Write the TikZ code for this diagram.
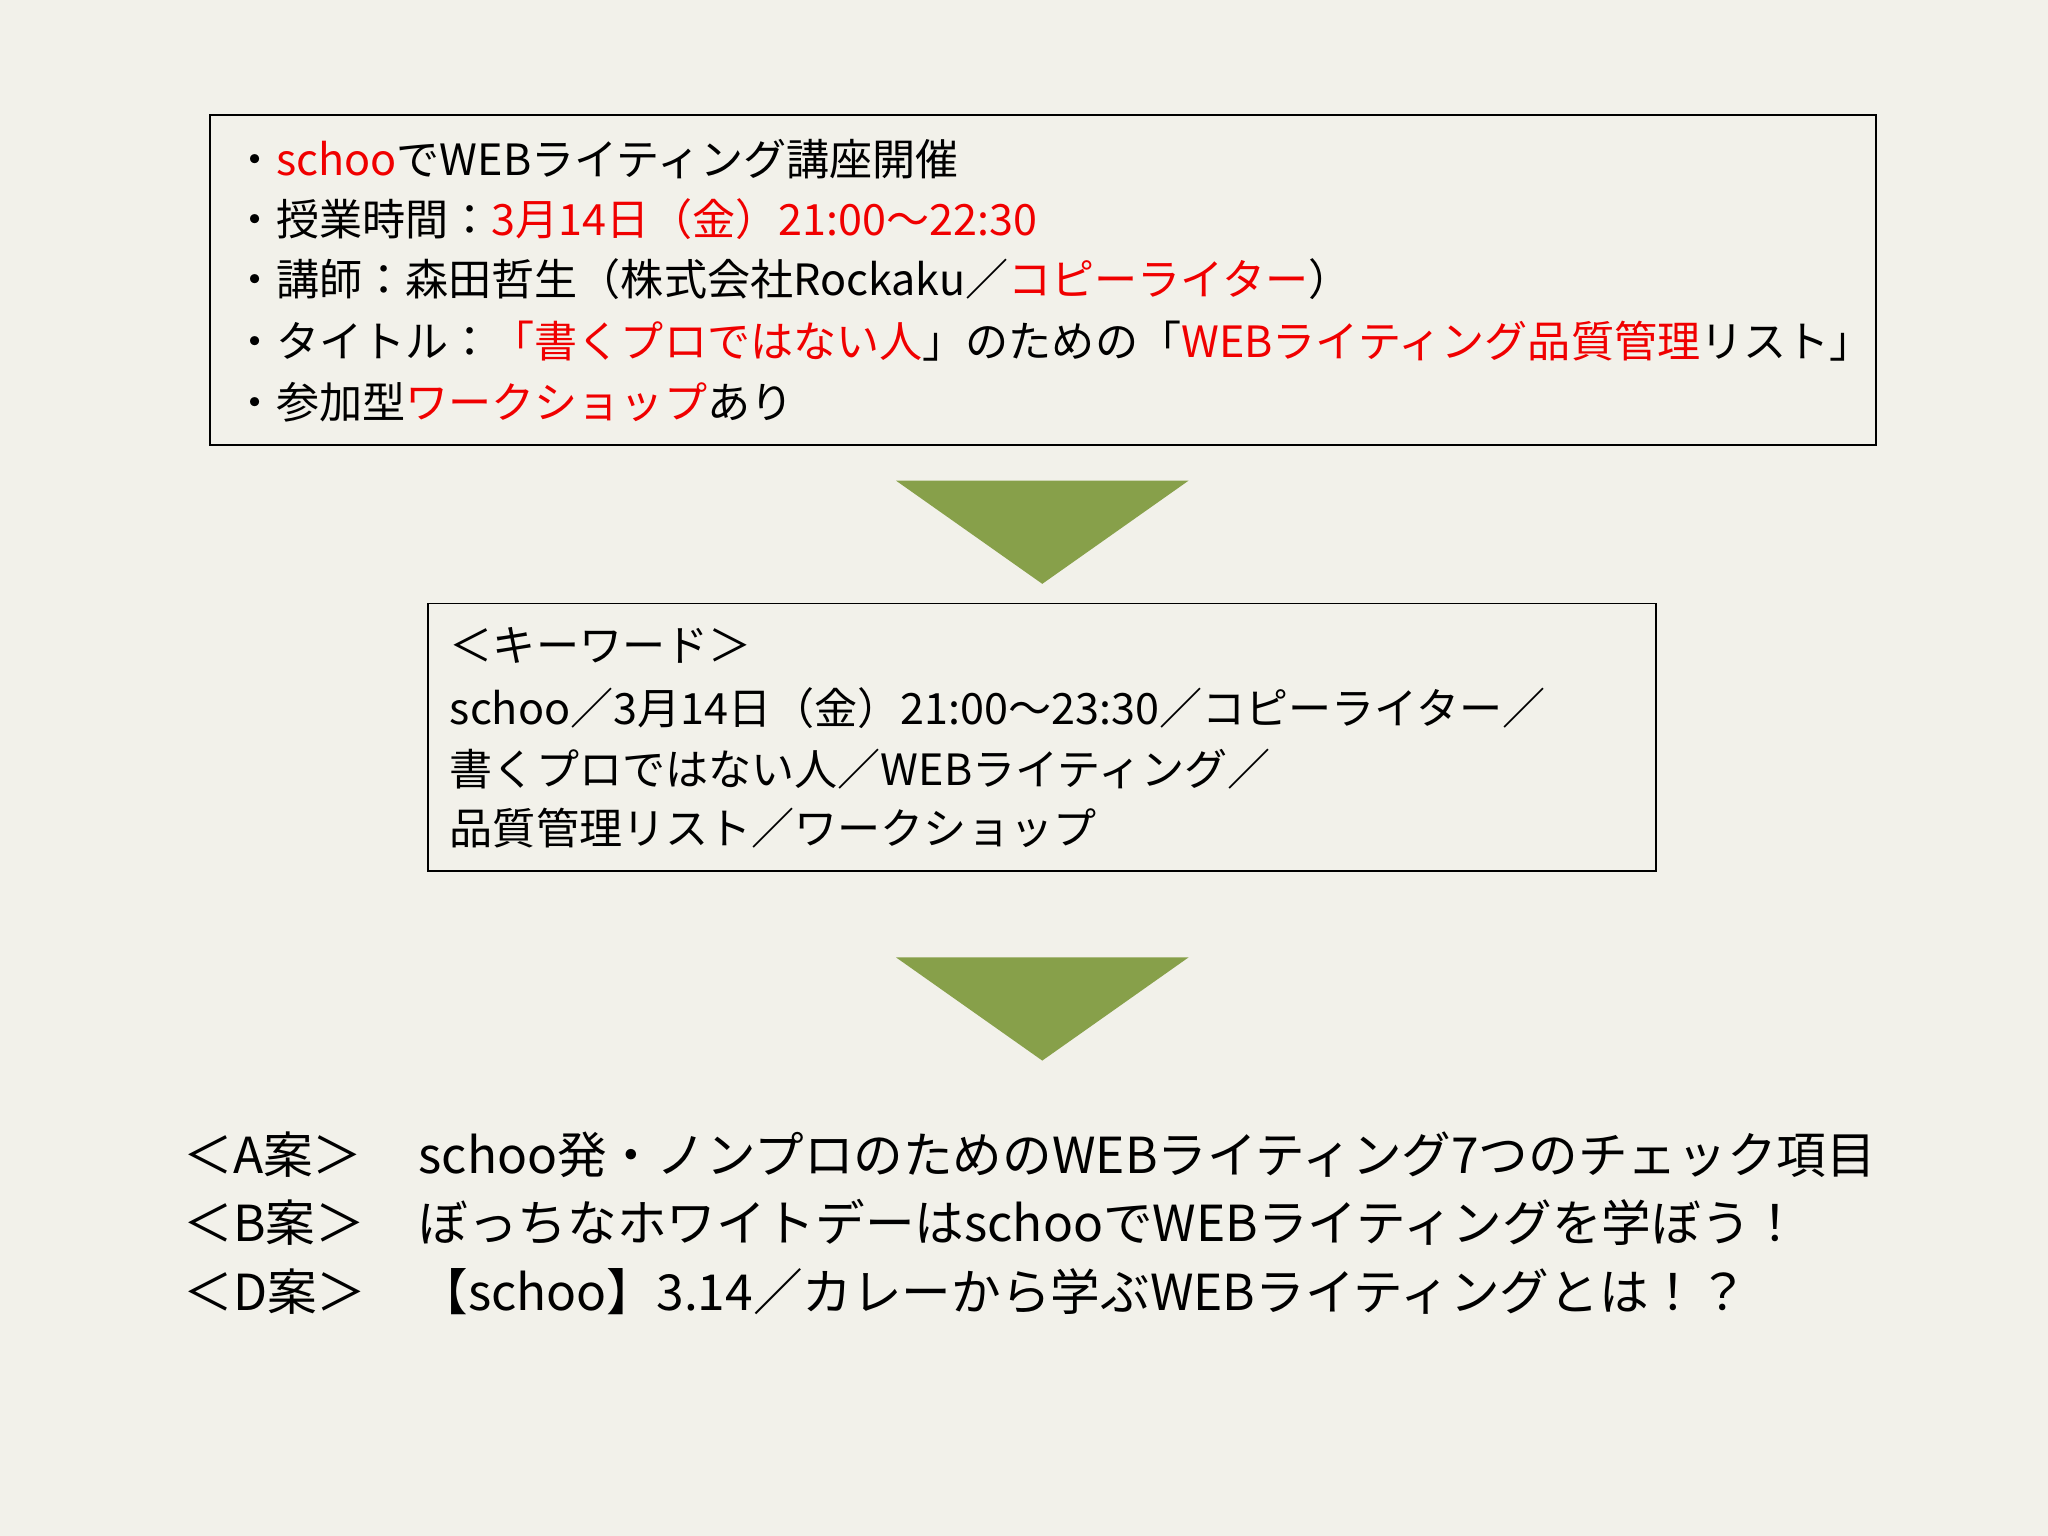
\documentclass[tikz,border=0pt]{standalone}
\usepackage{fontspec}
\setmainfont{Noto Sans CJK JP}
\definecolor{bg}{HTML}{F2F1EA}
\definecolor{olive}{HTML}{87A04A}
\definecolor{rd}{HTML}{F00000}
\newcommand{\R}[1]{\textcolor{rd}{#1}}
\begin{document}
\begin{tikzpicture}[x=0.5pt,y=-0.5pt,
  ln/.style={anchor=west,inner sep=0pt,font=\fontsize{16.5}{18}\selectfont},
  bl/.style={anchor=west,inner sep=0pt,font=\fontsize{19}{21}\selectfont},
  box/.style={draw=black,line width=0.7pt},
  tri/.style={fill=olive,draw=none}]
\fill[bg] (0,0) rectangle (1568,1176);
\useasboundingbox (0,0) rectangle (1568,1176);
\draw[box] (161,88) rectangle (1436,341);
\node[ln] (l1) at (178,122) {・\R{schoo}でWEBライティング講座開催};
\node[ln] (l2) at (178,168) {・授業時間：\R{3月14日（金）21:00〜22:30}};
\node[ln] (l3) at (178,214) {・講師：森田哲生（株式会社Rockaku／\R{コピーライター}）};
\node[ln] (l4) at (178,261) {・タイトル：\R{「書くプロではない人}」のための「\R{WEBライティング品質管理}リスト」};
\node[ln] (l5) at (178,308) {・参加型\R{ワークショップ}あり};
\fill[tri] (686,368) -- (910,368) -- (798,447) -- cycle;
\draw[box] (328,462) rectangle (1268,667);
\node[ln] (k1) at (344,494) {＜キーワード＞};
\node[ln] (k2) at (344,542) {schoo／3月14日（金）21:00〜23:30／コピーライター／};
\node[ln] (k3) at (344,589) {書くプロではない人／WEBライティング／};
\node[ln] (k4) at (344,634) {品質管理リスト／ワークショップ};
\fill[tri] (686,733) -- (910,733) -- (798,812) -- cycle;
\node[bl] (a) at (140,884) {＜A案＞};
\node[bl] (at) at (320,884) {schoo発・ノンプロのためのWEBライティング7つのチェック項目};
\node[bl] (b) at (140,936) {＜B案＞};
\node[bl] (bt) at (320,936) {ぼっちなホワイトデーはschooでWEBライティングを学ぼう！};
\node[bl] (d) at (140,989) {＜D案＞};
\node[bl] (dt) at (320,989) {【schoo】3.14／カレーから学ぶWEBライティングとは！？};
\end{tikzpicture}
\end{document}
